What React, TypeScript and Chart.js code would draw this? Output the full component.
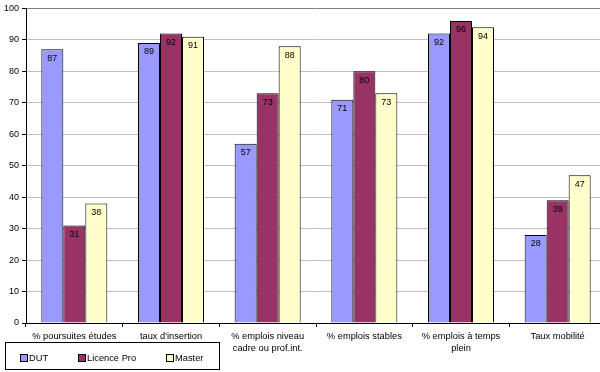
import React, { useEffect, useRef } from "react";
import { Chart, registerables } from "chart.js";

Chart.register(...registerables);

const categories: (string | string[])[] = [
  "% poursuites études",
  "taux d'insertion",
  ["% emplois niveau", "cadre ou prof.int."],
  "% emplois stables",
  ["% emplois à temps", "plein"],
  "Taux mobilité",
];
const seriesNames = ["DUT", "Licence Pro", "Master"];
const dutValues = [87, 89, 57, 71, 92, 28];
const licenceValues = [31, 92, 73, 80, 96, 39];
const masterValues = [38, 91, 88, 73, 94, 47];
const seriesColors = ["#9999FF", "#993366", "#FFFFCC"];

const FONT = "Arial, 'Liberation Sans', sans-serif";

const labelPlugin = {
  id: "barLabels",
  afterDatasetsDraw(chart: any) {
    const ctx = chart.ctx;
    ctx.save();
    ctx.font = `9px ${FONT}`;
    ctx.fillStyle = "#000";
    ctx.textAlign = "center";
    ctx.textBaseline = "middle";
    chart.data.datasets.forEach((ds: any, i: number) => {
      const meta = chart.getDatasetMeta(i);
      meta.data.forEach((bar: any, j: number) => {
        ctx.fillText(String(ds.data[j]), bar.x, bar.y + 9);
      });
    });
    ctx.restore();
  },
};

const legendPlugin = {
  id: "boxLegend",
  afterDraw(chart: any) {
    const ctx = chart.ctx;
    ctx.save();
    ctx.strokeStyle = "#000";
    ctx.lineWidth = 1;
    ctx.strokeRect(5.5, 342.5, 214, 27);
    const xs = [20, 78, 166];
    ctx.font = `9.3px ${FONT}`;
    ctx.textBaseline = "middle";
    ctx.textAlign = "left";
    chart.data.datasets.forEach((ds: any, i: number) => {
      ctx.fillStyle = ds.backgroundColor;
      ctx.fillRect(xs[i] + 0.5, 354.5, 7, 7);
      ctx.strokeStyle = "#000";
      ctx.strokeRect(xs[i] + 0.5, 354.5, 7, 7);
      ctx.fillStyle = "#000";
      ctx.fillText(ds.label, xs[i] + 9, 358.5);
    });
    ctx.restore();
  },
};

export default function App() {
  const ref = useRef<HTMLCanvasElement>(null);
  useEffect(() => {
    if (!ref.current) return;
    const valueSets = [dutValues, licenceValues, masterValues];
    const chart = new Chart(ref.current, {
      type: "bar",
      data: {
        labels: categories,
        datasets: seriesNames.map((name, i) => ({
          label: name,
          data: valueSets[i],
          backgroundColor: seriesColors[i],
          borderColor: "#000",
          borderWidth: 1,
          categoryPercentage: 0.683,
          barPercentage: 1,
        })),
      },
      options: {
        responsive: false,
        animation: false,
        layout: { padding: { left: 0, right: 4, top: 8, bottom: 0 } },
        plugins: { legend: { display: false }, tooltip: { enabled: false } },
        scales: {
          x: {
            grid: {
              drawOnChartArea: false,
              drawTicks: true,
              tickLength: 4,
              color: "#000",
              offset: true,
            },
            border: { color: "#000" },
            ticks: {
              color: "#000",
              font: { family: FONT, size: 9.3, lineHeight: 1.3 },
              maxRotation: 0,
              autoSkip: false,
              padding: 3,
            },
            afterFit(scale: any) {
              scale.height = 49;
            },
          },
          y: {
            min: 0,
            max: 100,
            ticks: {
              stepSize: 10,
              color: "#000",
              font: { family: FONT, size: 9 },
              padding: 3,
            },
            grid: {
              color: (c: any) => (c.tick && c.tick.value === 100 ? "#808080" : "#C0C0C0"),
              tickColor: "#000",
              tickLength: 4,
            },
            border: { color: "#000" },
            afterFit(scale: any) {
              scale.width = 26;
            },
          },
        },
      },
      plugins: [labelPlugin, legendPlugin],
    });
    return () => chart.destroy();
  }, []);
  return (
    <div
      style={{
        position: "fixed",
        left: 0,
        top: 0,
        width: 600,
        height: 372,
        overflow: "hidden",
        background: "#fff",
      }}
    >
      <canvas ref={ref} width={610} height={372} style={{ display: "block" }} />
    </div>
  );
}
